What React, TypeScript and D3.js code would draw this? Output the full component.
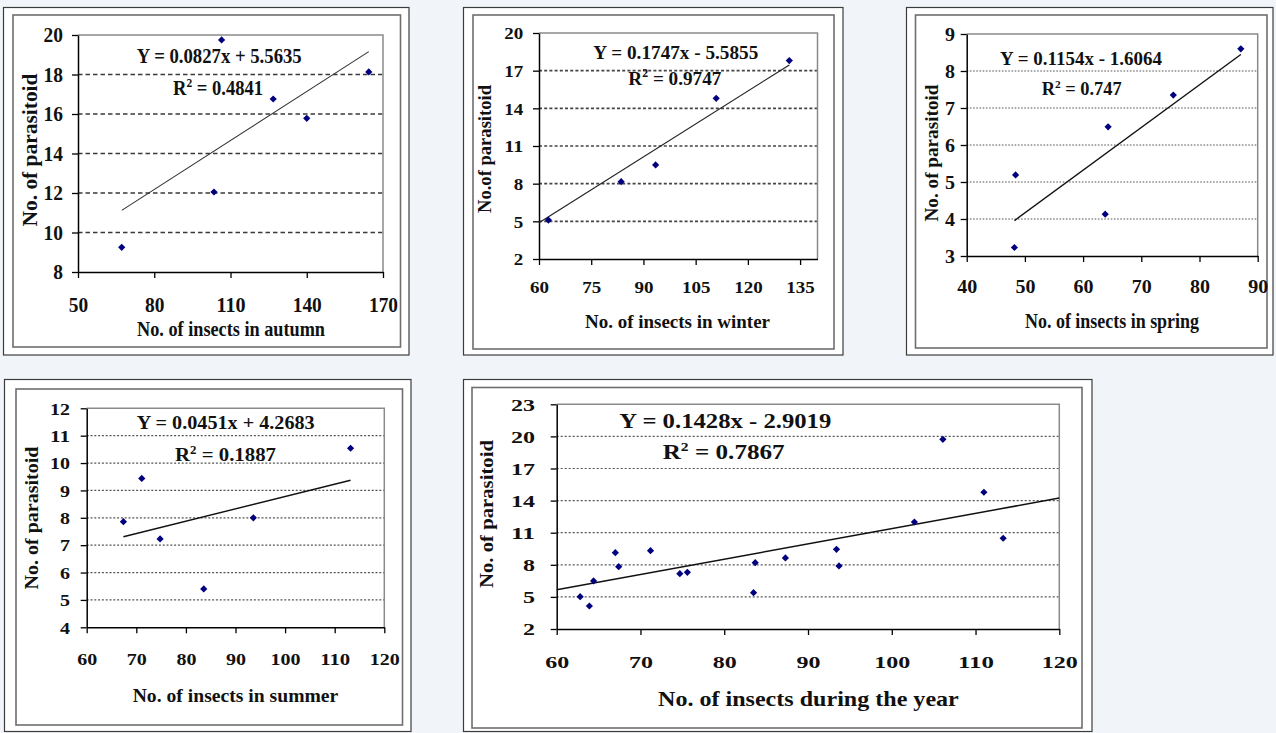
import { useEffect, useRef } from "react";
import * as d3 from "d3";

// --- values ---
const autumnInsects = [67.2, 103.5, 106.5, 126.8, 140.0, 164.4];
const autumnParasitoid = [9.25, 12.05, 19.75, 16.76, 15.78, 18.13];

const winterInsects = [62.7, 83.6, 93.5, 110.9, 131.9];
const winterParasitoid = [5.1, 8.16, 9.49, 14.8, 17.8];

const springInsects = [48.2, 48.4, 63.8, 64.3, 75.5, 87.1];
const springParasitoid = [3.23, 5.19, 4.13, 6.49, 7.35, 8.6];

const summerInsects = [67.4, 71.1, 74.8, 83.6, 93.6, 113.2];
const summerParasitoid = [7.86, 9.44, 7.23, 5.4, 8.0, 10.54];

const yearInsects = [62.8, 63.9, 64.4, 67.0, 67.4, 71.2, 74.7, 75.6, 83.5, 83.7, 87.3, 93.4, 93.7, 102.7, 106.1, 111.0, 113.3];
const yearParasitoid = [5.02, 4.15, 6.49, 9.13, 7.82, 9.32, 7.17, 7.3, 5.39, 8.2, 8.64, 9.45, 7.89, 12.0, 19.73, 14.78, 10.48];

// tick labels
const autumnXTicks = [50, 80, 110, 140, 170];
const autumnYTicks = [8, 10, 12, 14, 16, 18, 20];
const winterXTicks = [60, 75, 90, 105, 120, 135];
const winterYTicks = [2, 5, 8, 11, 14, 17, 20];
const springXTicks = [40, 50, 60, 70, 80, 90];
const springYTicks = [3, 4, 5, 6, 7, 8, 9];
const summerXTicks = [60, 70, 80, 90, 100, 110, 120];
const summerYTicks = [4, 5, 6, 7, 8, 9, 10, 11, 12];
const yearXTicks = [60, 70, 80, 90, 100, 110, 120];
const yearYTicks = [2, 5, 8, 11, 14, 17, 20, 23];

// regression lines (autumn, winter, spring, summer, year)
const slopes = [0.0827, 0.1747, 0.1154, 0.0451, 0.1428];
const intercepts = [5.5635, -5.5855, -1.6064, 4.2683, -2.9019];
const rSquared = ["0.4841", "0.9747", "0.747", "0.1887", "0.7867"];
const trendFrom = [67.2, 60, 48.2, 67.4, 60];
const trendTo = [164.4, 131.9, 87.1, 113.2, 120];

const xTitles = [
  "No. of insects in autumn",
  "No. of insects in winter",
  "No. of insects in spring",
  "No. of insects in summer",
  "No. of insects during the year",
];
const yTitles = ["No. of parasitoid", "No.of parasitoid", "No. of parasitoid", "No. of parasitoid", "No. of parasitoid"];

const W = 1276;
const H = 733;
const FONT = "'Liberation Serif', 'Times New Roman', serif";

// panel geometry + styling
const panels = [
  {
    xs: autumnInsects, ys: autumnParasitoid, xTicks: autumnXTicks, yTicks: autumnYTicks,
    xDomain: [50, 170], yDomain: [8, 20],
    outer: [3.5, 7.5, 409, 355], inner: [13, 15, 400.5, 347], plot: [78, 35, 383, 272],
    grid: { dash: "4.5,3", color: "#3a3a3a", width: 1.5 },
    tickFont: 20, digitW: 9.7, yLabelEnd: 63, xLabelBase: 312,
    eq: { x: 136.7, y: 63, w: 165, size: 21 }, r2: { x: 173, y: 95, w: 90, size: 21 },
    xTitle: { x: 137, y: 336, w: 188, size: 21 }, yTitle: { x: 37, cy: 150, len: 153, size: 20 },
    trendColor: "#333", trendWidth: 1.1,
  },
  {
    xs: winterInsects, ys: winterParasitoid, xTicks: winterXTicks, yTicks: winterYTicks,
    xDomain: [60, 140], yDomain: [2, 20],
    outer: [463.5, 7.5, 843, 355], inner: [473, 15, 834, 349], plot: [539, 33, 817.5, 259],
    grid: { dash: "3,2.2", color: "#444", width: 1.6 },
    tickFont: 17, digitW: 9.5, yLabelEnd: 523.3, xLabelBase: 293,
    eq: { x: 593.3, y: 59.3, w: 165, size: 19 }, r2: { x: 628.3, y: 85, w: 93, size: 19 },
    xTitle: { x: 585, y: 328, w: 185, size: 19 }, yTitle: { x: 491, cy: 149, len: 128, size: 18 },
    trendColor: "#222", trendWidth: 1.2,
  },
  {
    xs: springInsects, ys: springParasitoid, xTicks: springXTicks, yTicks: springYTicks,
    xDomain: [40, 90], yDomain: [3, 9],
    outer: [906.5, 7.5, 1273, 355], inner: [915.5, 15, 1267, 348], plot: [966.7, 34, 1257.7, 256],
    grid: { dash: "1.6,1.6", color: "#555", width: 1 },
    tickFont: 19, digitW: 10, yLabelEnd: 955, xLabelBase: 293,
    eq: { x: 1000, y: 65, w: 162, size: 18 }, r2: { x: 1041.7, y: 95, w: 80, size: 18 },
    xTitle: { x: 1025, y: 328, w: 174, size: 20 }, yTitle: { x: 938, cy: 153, len: 137, size: 19 },
    trendColor: "#111", trendWidth: 1.4,
  },
  {
    xs: summerInsects, ys: summerParasitoid, xTicks: summerXTicks, yTicks: summerYTicks,
    xDomain: [60, 120], yDomain: [4, 12],
    outer: [4.5, 379.5, 411, 731.5], inner: [16, 389, 402.5, 725], plot: [86.7, 408.3, 384.3, 627.3],
    grid: { dash: "2,1.8", color: "#555", width: 1.2 },
    tickFont: 17, digitW: 10, yLabelEnd: 70, xLabelBase: 665,
    eq: { x: 136.7, y: 429, w: 178, size: 18.5 }, r2: { x: 175, y: 461, w: 101, size: 18.5 },
    xTitle: { x: 132.7, y: 701.7, w: 205.6, size: 19.5 }, yTitle: { x: 38, cy: 518, len: 143, size: 19 },
    trendColor: "#111", trendWidth: 1.4,
  },
  {
    xs: yearInsects, ys: yearParasitoid, xTicks: yearXTicks, yTicks: yearYTicks,
    xDomain: [60, 120], yDomain: [2, 23],
    outer: [463.5, 379.5, 1092, 731.5], inner: [472, 387.5, 1082, 728], plot: [556.7, 404.3, 1059.3, 629],
    grid: { dash: "2,2", color: "#555", width: 1.2 },
    tickFont: 17, digitW: 12, yLabelEnd: 535, xLabelBase: 668,
    eq: { x: 619.3, y: 428.3, w: 212, size: 20 }, r2: { x: 662.7, y: 459.3, w: 122, size: 20 },
    xTitle: { x: 658, y: 706, w: 300.8, size: 21 }, yTitle: { x: 493, cy: 514, len: 148, size: 19 },
    trendColor: "#111", trendWidth: 1.5,
  },
];

const fmtEq = (m: number, b: number) =>
  `Y = ${m.toFixed(4)}x ${b < 0 ? "-" : "+"} ${Math.abs(b).toFixed(4)}`;

export default function App() {
  const ref = useRef<SVGSVGElement>(null);

  useEffect(() => {
    const svg = d3.select(ref.current);
    svg.selectAll("*").remove();

    svg.append("rect").attr("width", W).attr("height", H).attr("fill", "#f1f5f9");

    panels.forEach((p, i) => {
      const g = svg.append("g").attr("font-family", FONT).attr("font-weight", "bold");

      // frames
      const [ox0, oy0, ox1, oy1] = p.outer;
      g.append("rect")
        .attr("x", ox0).attr("y", oy0).attr("width", ox1 - ox0).attr("height", oy1 - oy0)
        .attr("fill", "#fff").attr("stroke", "#3c3c3c").attr("stroke-width", 1.2);
      const [ix0, iy0, ix1, iy1] = p.inner;
      g.append("rect")
        .attr("x", ix0).attr("y", iy0).attr("width", ix1 - ix0).attr("height", iy1 - iy0)
        .attr("fill", "#fff").attr("stroke", "#6e6e6e").attr("stroke-width", 1.6);

      const [px0, py0, px1, py1] = p.plot;
      const x = d3.scaleLinear().domain(p.xDomain).range([px0, px1]);
      const y = d3.scaleLinear().domain(p.yDomain).range([py1, py0]);

      // dotted grid lines (not on the axis or top border)
      g.append("g")
        .selectAll("line")
        .data(p.yTicks.slice(1, -1))
        .join("line")
          .attr("x1", px0).attr("x2", px1)
          .attr("y1", d => y(d)).attr("y2", d => y(d))
          .attr("stroke", p.grid.color)
          .attr("stroke-width", p.grid.width)
          .attr("stroke-dasharray", p.grid.dash);

      // grey top / right border of plot area
      g.append("path")
        .attr("d", `M${px0},${py0}H${px1}V${py1}`)
        .attr("fill", "none").attr("stroke", "#8a8a8a").attr("stroke-width", 1.5);

      // x axis
      const gx = g.append("g")
        .attr("transform", `translate(0,${py1})`)
        .call(d3.axisBottom(x).tickValues(p.xTicks).tickSize(6).tickSizeOuter(0).tickFormat(d3.format("d")));
      gx.select(".domain").attr("stroke", "#000").attr("stroke-width", 1.5);
      gx.selectAll(".tick line").attr("stroke", "#000").attr("stroke-width", 1.3);
      gx.selectAll<SVGTextElement, number>(".tick text")
        .attr("y", p.xLabelBase - py1).attr("dy", null)
        .style("font-family", FONT).style("font-weight", "bold").style("font-size", `${p.tickFont}px`)
        .attr("fill", "#111")
        .attr("textLength", d => String(d).length * p.digitW)
        .attr("lengthAdjust", "spacingAndGlyphs");

      // y axis
      const gy = g.append("g")
        .attr("transform", `translate(${px0},0)`)
        .call(d3.axisLeft(y).tickValues(p.yTicks).tickSize(6).tickSizeOuter(0).tickFormat(d3.format("d")));
      gy.select(".domain").attr("stroke", "#000").attr("stroke-width", 1.5);
      gy.selectAll(".tick line").attr("stroke", "#000").attr("stroke-width", 1.3);
      gy.selectAll<SVGTextElement, number>(".tick text")
        .attr("x", p.yLabelEnd - px0).attr("dy", "0.34em")
        .style("font-family", FONT).style("font-weight", "bold").style("font-size", `${p.tickFont}px`)
        .attr("fill", "#111")
        .attr("textLength", d => String(d).length * p.digitW)
        .attr("lengthAdjust", "spacingAndGlyphs");

      // trend line
      const f = (v: number) => slopes[i] * v + intercepts[i];
      g.append("path")
        .attr("d", d3.line()([
          [x(trendFrom[i]), y(f(trendFrom[i]))],
          [x(trendTo[i]), y(f(trendTo[i]))],
        ]))
        .attr("stroke", p.trendColor).attr("stroke-width", p.trendWidth).attr("fill", "none");

      // diamond markers
      g.append("g")
        .selectAll("path")
        .data(d3.zip(p.xs, p.ys))
        .join("path")
          .attr("transform", d => `translate(${x(d[0])},${y(d[1])}) rotate(45)`)
          .attr("d", d3.symbol(d3.symbolSquare, 26)())
          .attr("fill", "#00007f");

      // equation + R²
      g.append("text")
        .attr("x", p.eq.x).attr("y", p.eq.y)
        .attr("font-size", p.eq.size).attr("fill", "#111")
        .attr("textLength", p.eq.w).attr("lengthAdjust", "spacingAndGlyphs")
        .text(fmtEq(slopes[i], intercepts[i]));

      const r2 = g.append("text")
        .attr("x", p.r2.x).attr("y", p.r2.y)
        .attr("font-size", p.r2.size).attr("fill", "#111")
        .attr("textLength", p.r2.w).attr("lengthAdjust", "spacingAndGlyphs");
      r2.append("tspan").text("R");
      r2.append("tspan").attr("dy", -p.r2.size * 0.4).attr("font-size", p.r2.size * 0.62).text("2");
      r2.append("tspan").attr("dy", p.r2.size * 0.4).text(` = ${rSquared[i]}`);

      // axis titles
      g.append("text")
        .attr("x", p.xTitle.x).attr("y", p.xTitle.y)
        .attr("font-size", p.xTitle.size).attr("fill", "#111")
        .attr("textLength", p.xTitle.w).attr("lengthAdjust", "spacingAndGlyphs")
        .text(xTitles[i]);

      g.append("text")
        .attr("transform", `translate(${p.yTitle.x},${p.yTitle.cy}) rotate(-90)`)
        .attr("text-anchor", "middle")
        .attr("font-size", p.yTitle.size).attr("fill", "#111")
        .attr("textLength", p.yTitle.len).attr("lengthAdjust", "spacingAndGlyphs")
        .text(yTitles[i]);
    });
  }, []);

  return (
    <div style={{ position: "absolute", left: 0, top: 0 }}>
      <svg ref={ref} width={W} height={H} style={{ display: "block" }}></svg>
    </div>
  );
}
